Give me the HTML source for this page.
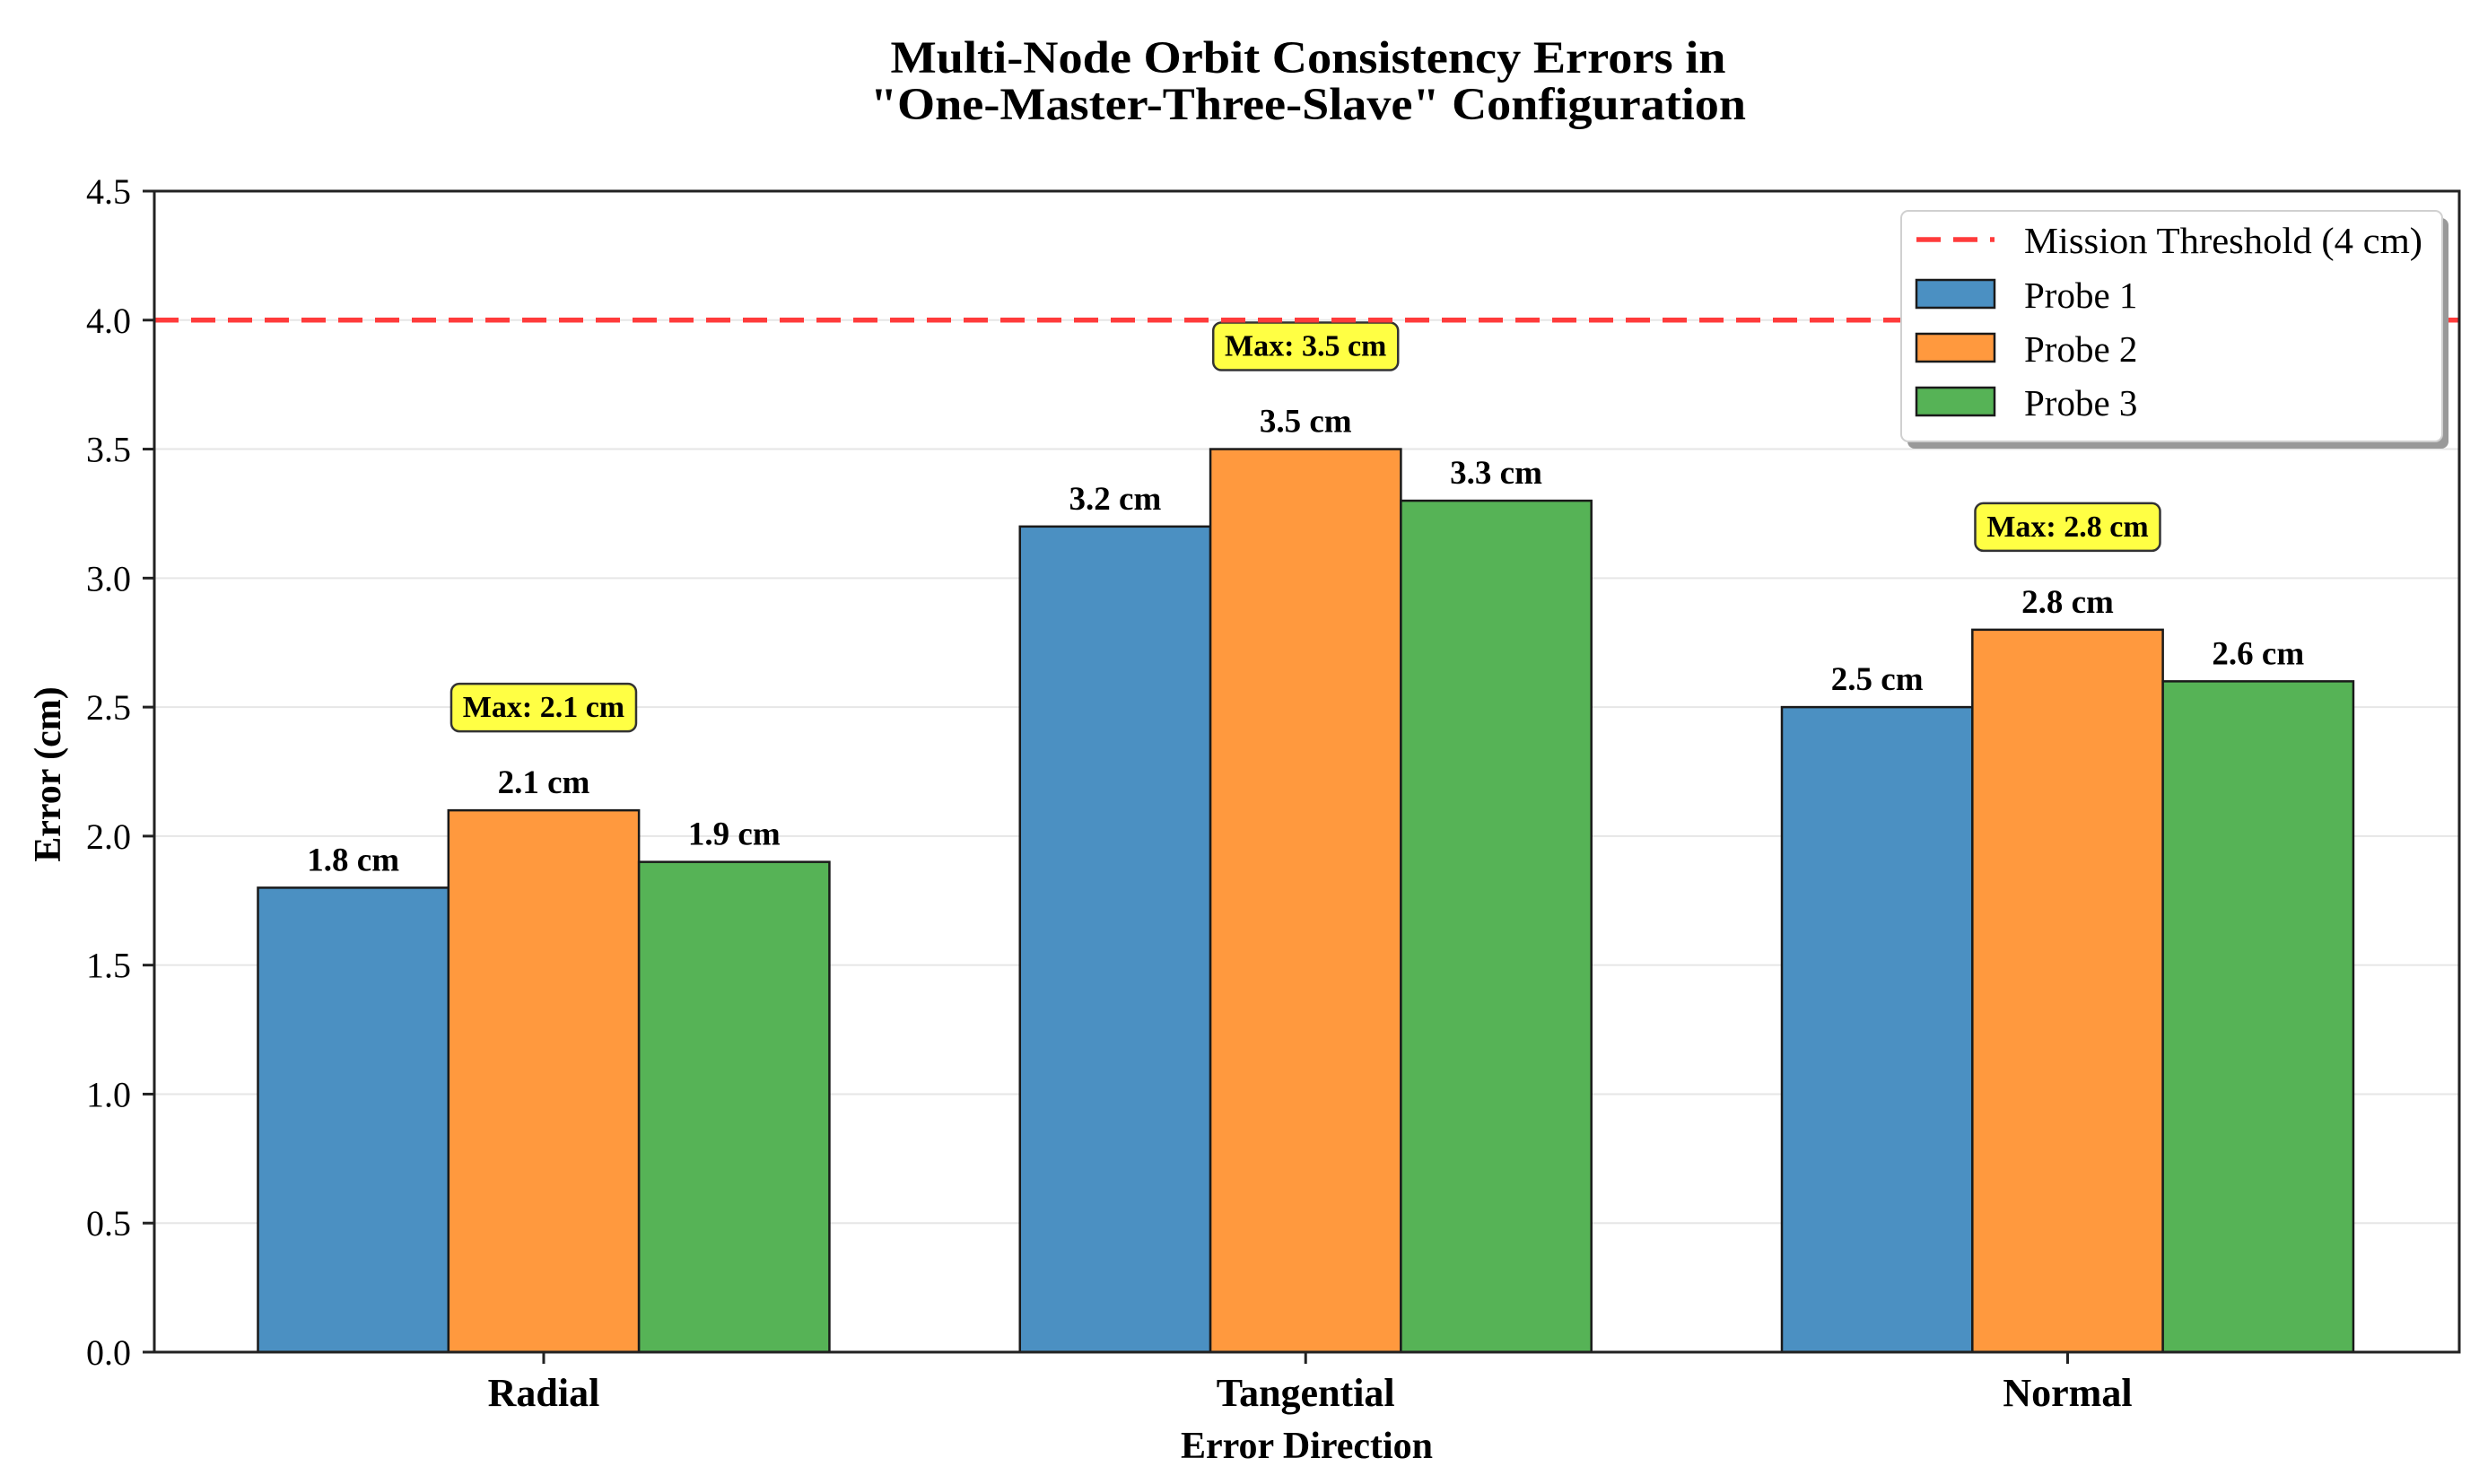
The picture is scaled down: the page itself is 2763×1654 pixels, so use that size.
<!DOCTYPE html>
<html><head><meta charset="utf-8"><style>
html,body{margin:0;padding:0;background:#fff;}
svg{display:block;font-family:"Liberation Serif","DejaVu Serif",serif;}
</style></head><body>
<svg id="chart" width="2763" height="1654" viewBox="0 0 2763 1654" xmlns="http://www.w3.org/2000/svg">
<rect width="2763" height="1654" fill="#fff"/>
<g id="title" font-weight="bold" font-size="51" text-anchor="middle" fill="#000">
<text x="1458" y="81" textLength="931" lengthAdjust="spacingAndGlyphs">Multi-Node Orbit Consistency Errors in</text>
<text x="1458" y="133" textLength="976" lengthAdjust="spacingAndGlyphs">"One-Master-Three-Slave" Configuration</text>
</g>
<g id="grid"></g>
<g id="bars"></g>
<g id="labels"></g>
<g id="axes"></g>
<g id="legend"></g>
</svg>
<script>
const categories = ["Radial", "Tangential", "Normal"];
const probe1 = [1.8, 3.2, 2.5];
const probe2 = [2.1, 3.5, 2.8];
const probe3 = [1.9, 3.3, 2.6];
const seriesNames = ["Probe 1", "Probe 2", "Probe 3"];
const yTicks = [0.0, 0.5, 1.0, 1.5, 2.0, 2.5, 3.0, 3.5, 4.0, 4.5];
const threshold = [4.0];

const NS = "http://www.w3.org/2000/svg";
const L = 172, R = 2741, T = 213, B = 1507;
const xMin = -0.511, xMax = 2.514, yMin = 0, yMax = 4.5;
function xs(v){ return L + (v - xMin) / (xMax - xMin) * (R - L); }
function ys(v){ return B - (v - yMin) / (yMax - yMin) * (B - T); }
function mk(tag, attrs, parent, txt){
  const e = document.createElementNS(NS, tag);
  for (const k in attrs) e.setAttribute(k, attrs[k]);
  if (txt !== undefined) e.textContent = txt;
  parent.appendChild(e);
  return e;
}
const colors = ["#4b90c2", "#ff993e", "#56b356"];
const series = [probe1, probe2, probe3];
const barW = 0.25;
const gGrid = document.getElementById("grid");
const gBars = document.getElementById("bars");
const gLab = document.getElementById("labels");
const gAx = document.getElementById("axes");
const gLeg = document.getElementById("legend");

yTicks.forEach(t => {
  const g = mk("line", {x1:L, x2:R, y1:ys(t), y2:ys(t), stroke:"#e6e6e6", "stroke-width":2}, gGrid);
  
  
});

series.forEach((vals, si) => {
  vals.forEach((v, ci) => {
    const cx = ci + (si - 1) * barW;
    const x0 = xs(cx - barW/2), x1 = xs(cx + barW/2);
    const r = mk("rect", {x:x0, y:ys(v), width:x1-x0, height:ys(0)-ys(v), fill:colors[si], stroke:"#1a1a1a", "stroke-width":2.5}, gBars);
    
    
    const t = mk("text", {x:(x0+x1)/2, y:ys(v)-19, "text-anchor":"middle", "font-size":37, "font-weight":"bold"}, gLab, v.toFixed(1) + " cm");
    
    
  });
});

categories.forEach((c, ci) => {
  const m = Math.max(probe1[ci], probe2[ci], probe3[ci]);
  const cy = ys(m + 0.4);
  const cx = xs(ci);
  const g = mk("g", {}, gLab);
  
  
  mk("rect", {x:cx-103, y:cy-26, width:206, height:53, rx:9, fill:"#ffff44", stroke:"#333", "stroke-width":2.5}, g);
  mk("text", {x:cx, y:cy+11, "text-anchor":"middle", "font-size":34, "font-weight":"bold"}, g, "Max: " + m.toFixed(1) + " cm");
});

threshold.forEach(th => {
  const l = mk("line", {x1:L, x2:R, y1:ys(th), y2:ys(th), stroke:"#ff3b3b", "stroke-width":5.5, "stroke-dasharray":"27 14"}, gLab);
  
  
});

const frame = mk("rect", {x:L, y:T, width:R-L, height:B-T, fill:"none", stroke:"#222", "stroke-width":3}, gAx);


yTicks.forEach(t => {
  mk("line", {x1:L-13, x2:L, y1:ys(t), y2:ys(t), stroke:"#222", "stroke-width":3}, gAx);
  const tl = mk("text", {x:L-26, y:ys(t)+14, "text-anchor":"end", "font-size":40}, gAx, t.toFixed(1));
  
  
});
categories.forEach((c, ci) => {
  mk("line", {x1:xs(ci), x2:xs(ci), y1:B, y2:B+13, stroke:"#222", "stroke-width":3}, gAx);
  const tl = mk("text", {x:xs(ci), y:1567, "text-anchor":"middle", "font-size":44, "font-weight":"bold"}, gAx, c);
  
  
});
const xt = mk("text", {x:(L+R)/2, y:1625, "text-anchor":"middle", "font-size":42, "font-weight":"bold"}, gAx, "Error Direction");


const yt = mk("text", {x:0, y:0, "text-anchor":"middle", "font-size":42, "font-weight":"bold", transform:"translate(67,863) rotate(-90)"}, gAx, "Error (cm)");



const lg = mk("g", {}, gLeg);


mk("rect", {x:2126, y:243, width:603, height:257, rx:8, fill:"#999"}, lg);
mk("rect", {x:2119, y:235, width:603, height:257, rx:8, fill:"#fff", stroke:"#d0d0d0", "stroke-width":2}, lg);
const le0 = mk("g", {}, lg);


mk("line", {x1:2136, x2:2223, y1:267, y2:267, stroke:"#ff3b3b", "stroke-width":5.5, "stroke-dasharray":"27 14"}, le0);
mk("text", {x:2256, y:282, "font-size":41, textLength:444, lengthAdjust:"spacingAndGlyphs"}, le0, "Mission Threshold (4 cm)");
seriesNames.forEach((n, i) => {
  const y = 312 + i*60;
  const e = mk("g", {}, lg);
  
  
  mk("rect", {x:2136, y:y, width:87, height:31, fill:colors[i], stroke:"#1a1a1a", "stroke-width":2.5}, e);
  mk("text", {x:2256, y:y+31, "font-size":41}, e, n);
});
</script>
</body></html>
